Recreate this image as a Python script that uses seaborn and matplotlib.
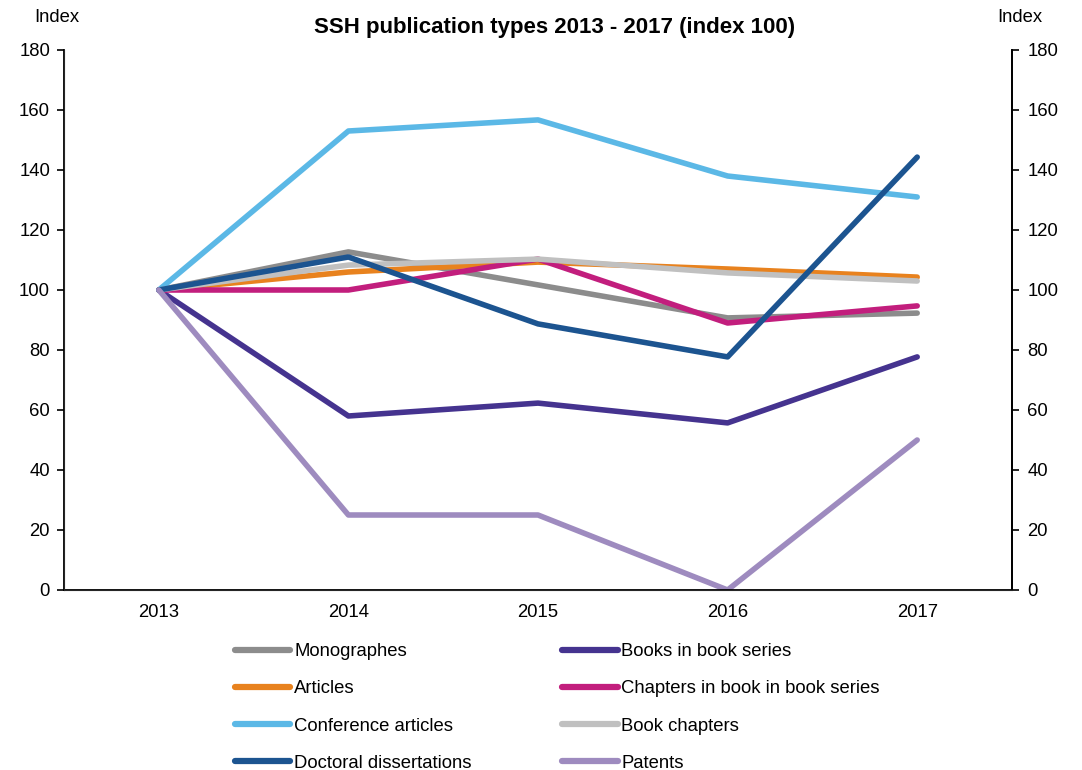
import matplotlib

matplotlib.use("Agg")
import matplotlib.pyplot as plt  # noqa: E402
import pandas as pd  # noqa: E402
import seaborn as sns  # noqa: E402
from matplotlib.lines import Line2D  # noqa: E402

years = [2013, 2014, 2015, 2016, 2017]

monographes = [100, 112.7, 101.7, 90.7, 92.3]
books_in_series = [100, 58, 62.3, 55.7, 77.7]
articles = [100, 106, 109.3, 107, 104.3]
chapters_in_series = [100, 100, 110.3, 89, 94.7]
conference = [100, 153, 156.7, 138, 131]
book_chapters = [100, 108.3, 110.3, 105.7, 103]
doctoral = [100, 111, 88.7, 77.7, 144.3]
patents = [100, 25, 25, 0, 50]

series = {
    "Monographes": monographes,
    "Books in book series": books_in_series,
    "Articles": articles,
    "Chapters in book in book series": chapters_in_series,
    "Conference articles": conference,
    "Book chapters": book_chapters,
    "Doctoral dissertations": doctoral,
    "Patents": patents,
}
colors = {
    "Monographes": "#8c8c8c",
    "Books in book series": "#45338f",
    "Articles": "#e8821e",
    "Chapters in book in book series": "#c21e7d",
    "Conference articles": "#5bb8e6",
    "Book chapters": "#c0c0c0",
    "Doctoral dissertations": "#1c5490",
    "Patents": "#9e8bbf",
}
legend_order = [
    "Monographes", "Articles", "Conference articles", "Doctoral dissertations",
    "Books in book series", "Chapters in book in book series", "Book chapters", "Patents",
]

rows = []
for name, vals in series.items():
    for y, v in zip(years, vals):
        rows.append({"year": y, "value": v, "series": name})
df = pd.DataFrame(rows)

sns.set_style("white")
plt.rcParams["font.family"] = ["Liberation Sans", "DejaVu Sans"]
plt.rcParams["text.color"] = "black"
plt.rcParams["xtick.color"] = "black"
plt.rcParams["ytick.color"] = "black"
fs = 13.3

fig = plt.figure(figsize=(10.82, 7.7), dpi=100)
ax = fig.add_axes([64 / 1082, 180 / 770, (1012 - 64) / 1082, 540 / 770])

sns.lineplot(data=df, x="year", y="value", hue="series", palette=colors,
             hue_order=list(series.keys()), linewidth=4, legend=False, ax=ax,
             solid_capstyle="round")

ax.set_xlim(2012.5, 2017.5)
ax.set_ylim(0, 180)
ax.set_yticks(range(0, 181, 20))
ax.set_xticks(years)
ax.set_xticks([2012.5 + i for i in range(6)], minor=True)
ax.tick_params(axis="x", which="major", length=0, pad=10, labelsize=fs)
ax.tick_params(axis="x", which="minor", length=5, width=1.2, direction="out", color="black")
ax.tick_params(axis="y", length=5, width=1.2, direction="out", labelsize=fs, color="black", pad=5)
ax.set_xlabel("")
ax.set_ylabel("")
ax.spines["top"].set_visible(False)
for s in ("left", "bottom", "right"):
    ax.spines[s].set_color("black")
    ax.spines[s].set_linewidth(1.3)

ax2 = ax.twinx()
ax2.set_ylim(0, 180)
ax2.set_yticks(range(0, 181, 20))
ax2.tick_params(axis="y", length=5, width=1.2, direction="out", labelsize=fs, color="black", pad=6)
ax2.spines["top"].set_visible(False)
ax2.spines["right"].set_color("black")
ax2.spines["right"].set_linewidth(1.3)

fig.text(57 / 1082, 1 - 17 / 770, "Index", ha="center", va="center", fontsize=fs)
fig.text(1020 / 1082, 1 - 17 / 770, "Index", ha="center", va="center", fontsize=fs)
fig.text(555 / 1082, 1 - 28 / 770, "SSH publication types 2013 - 2017 (index 100)",
         ha="center", va="center", fontsize=16, fontweight="bold")

handles = [Line2D([0], [0], color=colors[n], linewidth=4.5, solid_capstyle="round")
           for n in legend_order]
fig.legend(handles, legend_order, ncol=2, frameon=False, loc="upper left",
           bbox_to_anchor=(235 / 1082, 1 - 643 / 770), borderpad=0,
           handlelength=3.0, handletextpad=0.2, labelspacing=1.1,
           columnspacing=4.9, fontsize=fs, borderaxespad=0)

fig.savefig("out.png", dpi=100)
